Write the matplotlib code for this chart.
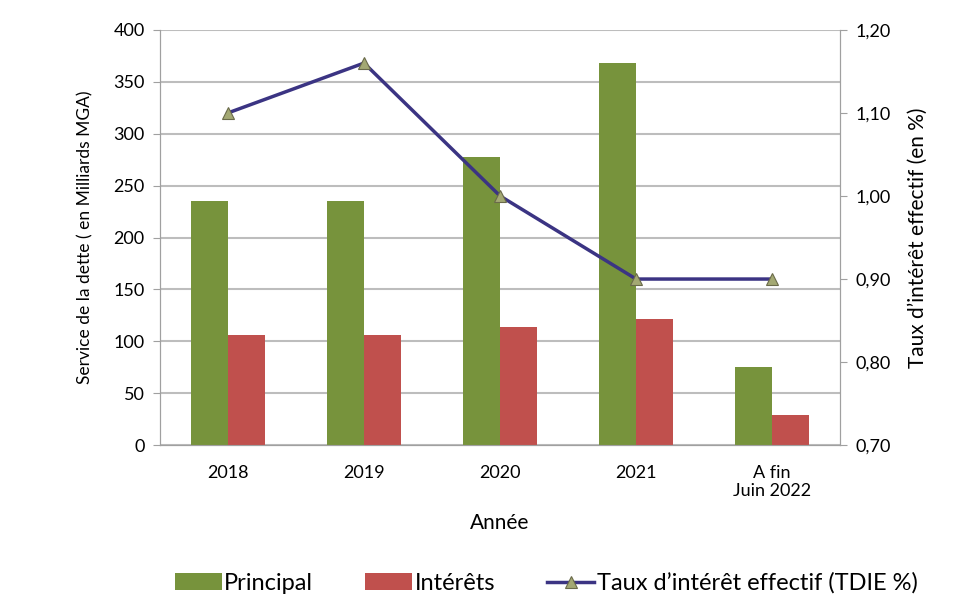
import matplotlib
matplotlib.use("Agg")
import numpy as np
import matplotlib.pyplot as plt

plt.rcParams['font.family'] = ['Lato', 'DejaVu Sans']

annees = ["2018", "2019", "2020", "2021", "A fin\nJuin 2022"]
principal = [235, 235, 278, 368, 75]
interets = [106, 106, 114, 122, 29]
taux = [1.10, 1.16, 1.00, 0.90, 0.90]

green = '#77933C'
red = '#C0504D'
navy = '#3B3483'

fig = plt.figure(figsize=(9.58, 6.09), dpi=100)
ax = fig.add_axes([0.167, 0.269, 0.710, 0.682])
x = np.arange(len(annees))
w = 0.27
ax.bar(x - w/2, principal, w, color=green, label='Principal', zorder=3)
ax.bar(x + w/2, interets, w, color=red, label='Intérêts', zorder=3)
ax.set_ylim(0, 400)
ax.set_yticks(np.arange(0, 401, 50))
ax.set_xlim(-0.5, len(annees) - 0.5)
ax.set_xticks(x)
ax.set_xticklabels(annees)
ax.yaxis.grid(True, color='#BDBDBD', linewidth=1.5, zorder=0)
ax.set_axisbelow(True)
ax.spines['top'].set_visible(False)
for s in ['left', 'right', 'bottom']:
    ax.spines[s].set_color('#A0A0A0')
ax.tick_params(axis='x', labelsize=13, length=0, pad=14)
ax.tick_params(axis='y', labelsize=13, length=5, color='#A0A0A0', direction='out', pad=6)
ax.set_ylabel('Service de la dette ( en Milliards MGA)', fontsize=12.5, labelpad=14)
ax.set_xlabel('Année', fontsize=15, labelpad=10)

ax2 = ax.twinx()
ax2.plot(x, taux, color=navy, linewidth=2.5, marker='^', markersize=8,
         markerfacecolor='#A3A873', markeredgecolor='#6A6A4A', markeredgewidth=0.8,
         label="Taux d\u2019intérêt effectif (TDIE %)", zorder=4)
ax2.set_ylim(0.70, 1.20)
ax2.set_yticks(np.arange(0.70, 1.201, 0.10))
ax2.set_yticklabels([f"{v:.2f}".replace('.', ',') for v in np.arange(0.70, 1.201, 0.10)])
ax2.tick_params(axis='y', labelsize=13, length=5, color='#A0A0A0', pad=6)
ax2.spines['top'].set_visible(False)
for s in ['left', 'right', 'bottom']:
    ax2.spines[s].set_color('#A0A0A0')
ax2.set_ylabel("Taux d\u2019intérêt effectif (en %)", fontsize=15, labelpad=12)

h1, l1 = ax.get_legend_handles_labels()
h2, l2 = ax2.get_legend_handles_labels()
fig.legend(h1 + h2, l1 + l2, loc='lower center', bbox_to_anchor=(0.57, -0.01), ncol=3,
           frameon=False, fontsize=17, handlelength=2.0, handleheight=0.7,
           columnspacing=2.2, handletextpad=0.1)

fig.savefig('out.png', dpi=100)
